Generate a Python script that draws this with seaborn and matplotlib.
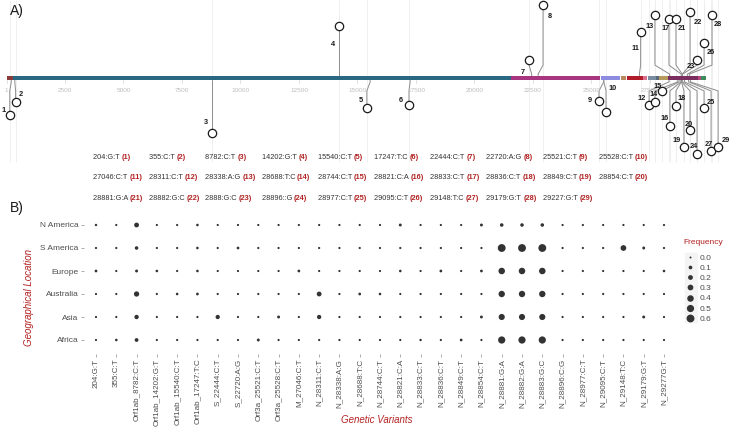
import numpy as np
import pandas as pd
import seaborn as sns
import matplotlib.pyplot as plt
from matplotlib.lines import Line2D
from matplotlib.patches import Rectangle

# ---------------------------------------------------------------- data
# genome segments (SARS-CoV-2 reference coordinates)
gene_names = ["5'UTR", "ORF1ab", "S", "ORF3a", "E", "M", "ORF6", "ORF7a",
              "ORF7b", "ORF8", "N", "ORF10", "3'UTR"]
gene_start = [1, 266, 21563, 25393, 26245, 26523, 27202, 27394, 27756,
              27894, 28274, 29558, 29675]
gene_end = [265, 21555, 25384, 26220, 26472, 27191, 27387, 27759, 27887,
            28259, 29533, 29674, 29903]

# variants in panel A
variant_labels = ["204:G:T", "355:C:T", "8782:C:T", "14202:G:T", "15540:C:T",
                  "17247:T:C", "22444:C:T", "22720:A:G", "25521:C:T", "25528:C:T",
                  "27046:C:T", "28311:C:T", "28338:A:G", "28688:T:C", "28744:C:T",
                  "28821:C:A", "28833:C:T", "28836:C:T", "28849:C:T", "28854:C:T",
                  "28881:G:A", "28882:G:C", "2888:G:C", "28896::G", "28977:C:T",
                  "29095:C:T", "29148:T:C", "29179:G:T", "29227:G:T"]
variant_pos = [204, 355, 8782, 14202, 15540, 17247, 22444, 22720, 25521, 25528,
               27046, 28311, 28338, 28688, 28744, 28821, 28833, 28836, 28849, 28854,
               28881, 28882, 28888, 28896, 28977, 29095, 29148, 29179, 29227]
# where the lollipop head is drawn after spreading (genome units)
display_pos = [140, 390, 8782, 14202, 15400, 17200, 22330, 22930, 25320, 25620,
               27100, 27460, 27710, 27710, 28010, 28350, 28310, 28610, 28950, 29210,
               28610, 29210, 29510, 29510, 29810, 29810, 30110, 30150, 30410]
# stem height, positive = above the genome bar
stem_height = [-37, -24, -55, 52, -30, -27, 18, 73, -23, -34,
               46, -27, 63, -24, -13, -48, 59, -28, -69, -52,
               59, 66, 18, -76, -30, 35, -73, 63, -69]

genome_ticks = [1, 2500, 5000, 7500, 10000, 12500, 15000, 17500, 20000,
                22500, 25000, 27500]

# panel B
regions = ["N America", "S America", "Europe", "Australia", "Asia", "Africa"]
variants_b = ["204:G:T", "355:C:T", "Orf1ab_8782:C:T", "Orf1ab_14202:G:T",
              "Orf1ab_15540:C:T", "Orf1ab_17247:T:C", "S_22444:C:T", "S_22720:A:G",
              "Orf3a_25521:C:T", "Orf3a_25528:C:T", "M_27046:C:T", "N_28311:C:T",
              "N_28338:A:G", "N_28688:T:C", "N_28744:C:T", "N_28821:C:A",
              "N_28833:C:T", "N_28836:C:T", "N_28849:C:T", "N_28854:C:T",
              "N_28881:G:A", "N_28882:G:A", "N_28883:G:C", "N_28896:C:G",
              "N_28977:C:T", "N_29095:C:T", "N_29148:T:C", "N_29179:G:T",
              "N_29277G:T"]
freq_n_america = [0.02, 0.01, 0.20, 0.01, 0.01, 0.03, 0.01, 0.01, 0.01, 0.01,
                  0.01, 0.01, 0.01, 0.01, 0.01, 0.05, 0.01, 0.01, 0.01, 0.05,
                  0.09, 0.09, 0.09, 0.01, 0.01, 0.01, 0.01, 0.01, 0.01]
freq_s_america = [0.01, 0.01, 0.09, 0.01, 0.01, 0.03, 0.01, 0.04, 0.01, 0.01,
                  0.01, 0.01, 0.01, 0.01, 0.01, 0.01, 0.01, 0.01, 0.01, 0.01,
                  0.60, 0.60, 0.60, 0.01, 0.01, 0.01, 0.30, 0.05, 0.01]
freq_europe = [0.04, 0.01, 0.05, 0.03, 0.01, 0.03, 0.01, 0.01, 0.01, 0.01,
               0.04, 0.01, 0.01, 0.01, 0.01, 0.03, 0.01, 0.04, 0.01, 0.04,
               0.40, 0.40, 0.40, 0.01, 0.01, 0.01, 0.01, 0.01, 0.03]
freq_australia = [0.01, 0.01, 0.25, 0.01, 0.03, 0.04, 0.01, 0.01, 0.01, 0.01,
                  0.01, 0.20, 0.01, 0.04, 0.03, 0.01, 0.01, 0.01, 0.01, 0.01,
                  0.38, 0.38, 0.38, 0.01, 0.01, 0.01, 0.01, 0.01, 0.01]
freq_asia = [0.01, 0.01, 0.16, 0.01, 0.01, 0.01, 0.15, 0.01, 0.01, 0.05,
             0.01, 0.15, 0.01, 0.01, 0.01, 0.01, 0.01, 0.01, 0.01, 0.05,
             0.35, 0.35, 0.35, 0.01, 0.01, 0.01, 0.01, 0.05, 0.01]
freq_africa = [0.01, 0.03, 0.11, 0.01, 0.01, 0.01, 0.01, 0.01, 0.05, 0.01,
               0.01, 0.01, 0.01, 0.01, 0.01, 0.01, 0.02, 0.01, 0.04, 0.01,
               0.50, 0.50, 0.50, 0.01, 0.01, 0.01, 0.01, 0.01, 0.01]
legend_values = [0.0, 0.1, 0.2, 0.3, 0.4, 0.5, 0.6]

# ---------------------------------------------------------------- style
gene_colors = ["#8B3A3A", "#2A6882", "#A8357F", "#8E8CE0", "#B98A5E", "#B01C2A",
               "#D9708F", "#7A8CA0", "#5A6A7A", "#B59A5E", "#7A2E60", "#B5487F",
               "#3E8C5C"]
RED = "#B22222"
DOT = "#333333"
# label offsets of the lollipop numbers (pixels, right / down)
label_dx = [-6, 5, -6, -6, -6, -8, -6, 7, -9, 7, -5, -7, -5, -1, -4, -5, -3, 6,
            -7, -1, 6, 8, -6, -3, 7, 7, -2, 6, 8]
label_dy = [-5, -7, -10, 19, -8, -5, 13, 12, -1, -23, 16, -6, 12, -7, -5, -8, 10,
            -7, -6, -6, 10, 10, 6, -8, -6, 10, -7, 10, -7]

W, H = 731, 428
PX_PER_BP = 0.0234
X0 = 6.5
BAR_Y = 78

sns.set_theme(style="white")
plt.rcParams["font.family"] = ["Liberation Sans", "DejaVu Sans"]

fig = plt.figure(figsize=(W / 100, H / 100), dpi=100)


def fx(x):
    return x / W


def fy(y):
    return 1 - y / H


# ---------------------------------------------------------------- panel A
ax_a = fig.add_axes([0, fy(205), 1, 205 / H])
ax_a.set_xlim(-X0 / PX_PER_BP, (W - X0) / PX_PER_BP)
ax_a.set_ylim(205, 0)
ax_a.axis("off")

# faint guide lines
ax_a.vlines(display_pos, 0, 162, color="#EEEEEE", lw=0.6, zorder=0)

# genome bar
for s, e, c in zip(gene_start, gene_end, gene_colors):
    ax_a.barh(BAR_Y, e - s, left=s, height=3.8, color=c, lw=0, zorder=3)

for t in genome_ticks:
    ax_a.plot([t, t], [BAR_Y + 2, BAR_Y + 5], color="#D0D0D0", lw=0.5, zorder=1)
    ax_a.text(t, 90, str(t), ha="center", va="center", fontsize=4.6,
              color="#BDBDBD")

# lollipops: bar -> short stem -> diagonal to spread position -> head
for i in range(len(variant_pos)):
    p, d, h = variant_pos[i], display_pos[i], stem_height[i]
    sgn = -1 if h > 0 else 1
    y_edge = BAR_Y + sgn * 1.9
    xs = [p, p, d, d]
    ys = [y_edge, y_edge + sgn * 2, y_edge + sgn * 11, BAR_Y - h]
    ax_a.plot(xs, ys, color="#8C8C8C", lw=0.7, zorder=2)

heads_y = [BAR_Y - h for h in stem_height]
ax_a.scatter(display_pos, heads_y, s=36, facecolor="white", edgecolor="#1A1A1A",
             linewidth=0.9, zorder=5)
for i in range(len(variant_pos)):
    ax_a.annotate(str(i + 1), (display_pos[i], heads_y[i]),
                  xytext=(label_dx[i] * 0.72, -label_dy[i] * 0.72),
                  textcoords="offset points", ha="center", va="center",
                  fontsize=5.3, fontweight="bold", color="#1A1A1A", zorder=6)

# variant table: "pos:ref:alt" followed by the red lollipop number
for i, lab in enumerate(variant_labels):
    row, col = divmod(i, 10)
    t = fig.text(fx(93 + 56.2 * col), fy(157 + 20.5 * row), lab + " ",
                 fontsize=5.3, color="#333333", ha="left", va="center")
    ax_a.annotate("(%d)" % (i + 1), xy=(1, 0), xycoords=t,
                  ha="left", va="bottom", fontsize=5.3,
                  fontweight="bold", color=RED)

fig.text(fx(10), fy(11), "A)", fontsize=10, color="#1A1A1A", va="center")
fig.text(fx(10), fy(208), "B)", fontsize=10, color="#1A1A1A", va="center")

# ---------------------------------------------------------------- panel B
freqs = {"N America": freq_n_america, "S America": freq_s_america,
         "Europe": freq_europe, "Australia": freq_australia,
         "Asia": freq_asia, "Africa": freq_africa}
rows = []
for reg in regions[::-1]:          # first category ends up at the bottom
    for v, f in zip(variants_b, freqs[reg]):
        rows.append({"variant": v, "region": reg, "freq": f})
df = pd.DataFrame(rows)

SIZES = (2.0, 32.0)
NORM = (0.0, 0.6)

left, right = 96 - 0.6 * 20.29, 664 + 0.6 * 20.29
top, bottom = 225 - 0.6 * 23, 340 + 0.6 * 23
ax_b = fig.add_axes([fx(left), fy(bottom), (right - left) / W, (bottom - top) / H])

sns.scatterplot(data=df, x="variant", y="region", size="freq",
                sizes=SIZES, size_norm=NORM, color=DOT, edgecolor="none",
                legend=False, ax=ax_b)
ax_b.set_xlim(-0.6, len(variants_b) - 0.4)
ax_b.set_ylim(-0.6, len(regions) - 0.4)
ax_b.set_xlabel("")
ax_b.set_ylabel("")
sns.despine(ax=ax_b, left=True, bottom=True)
ax_b.tick_params(axis="x", bottom=True, rotation=90, labelsize=5.8,
                 labelcolor="#4D4D4D", length=2, width=0.6, color="#A0A0A0", pad=1.5)
ax_b.tick_params(axis="y", left=True, labelsize=6, labelcolor="#4D4D4D",
                 length=2, width=0.6, color="#A0A0A0", pad=2)
ax_b.grid(False)

fig.text(fx(29), fy(297), "Geographical Location", rotation=90, ha="center",
         va="center", fontsize=7, style="italic", color=RED)
fig.text(fx(377), fy(420), "Genetic Variants", ha="center", va="center",
         fontsize=7, style="italic", color=RED)

# size legend
fig.text(fx(683), fy(242), "Frequency", ha="left", va="center", fontsize=6,
         color=RED)
fig.patches.append(Rectangle((fx(685), fy(322)), 12 / W, 69 / H,
                             transform=fig.transFigure, color="#F4F4F4", zorder=0))


def area(v):
    return SIZES[0] + (SIZES[1] - SIZES[0]) * (v - NORM[0]) / (NORM[1] - NORM[0])


handles = [Line2D([], [], marker="o", ls="", color=DOT, markeredgewidth=0,
                  markersize=np.sqrt(area(v))) for v in legend_values]
leg = fig.legend(handles, ["%.1f" % v for v in legend_values],
                 loc="upper left", bbox_to_anchor=(fx(685), fy(254)),
                 frameon=False, fontsize=6, labelspacing=0.28,
                 handlelength=1.2, handletextpad=0.5, borderpad=0,
                 borderaxespad=0)
for txt in leg.get_texts():
    txt.set_color("#4D4D4D")

fig.savefig("out.png", dpi=100)
